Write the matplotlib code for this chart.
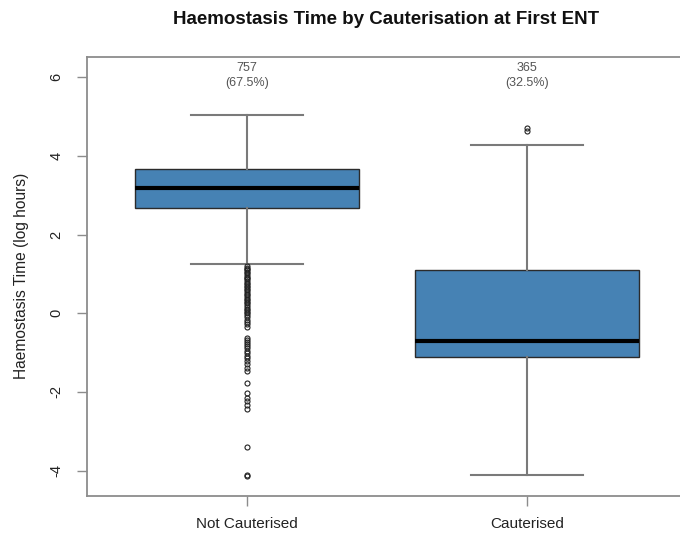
import matplotlib
matplotlib.use("Agg")
import matplotlib.pyplot as plt

plt.rcParams["font.family"] = ["Liberation Sans", "DejaVu Sans"]

# Groups and summary statistics (log hours)
groups = ["Not Cauterised", "Cauterised"]
counts = [757, 365]
q1 = [2.68, -1.12]
medians = [3.18, -0.70]
q3 = [3.67, 1.09]
whisker_low = [1.25, -4.11]
whisker_high = [5.04, 4.28]

outliers_not_cauterised = [
    1.20, 1.16, 1.12, 1.09, 1.05, 1.01, 0.97, 0.93, 0.90, 0.86, 0.82, 0.78,
    0.74, 0.70, 0.66, 0.62, 0.58, 0.54, 0.50, 0.46, 0.41, 0.37, 0.33, 0.29,
    0.25, 0.20, 0.16, 0.12, 0.08, 0.04, 0.00, -0.05, -0.10, -0.16, -0.22,
    -0.28, -0.35, -0.63, -0.68, -0.73, -0.78, -0.83, -0.89, -0.95, -1.01,
    -1.08, -1.15, -1.22, -1.30, -1.38, -1.47, -1.77, -2.03, -2.16, -2.24,
    -2.33, -2.44, -3.41, -4.10, -4.13,
]
outliers_cauterised = [4.64, 4.72]

fig = plt.figure(figsize=(6.8, 5.34), dpi=100)
ax = fig.add_axes([87 / 680, 38 / 534, 600 / 680, 439.3 / 534])

stats = []
for i, name in enumerate(groups):
    stats.append({
        "label": name,
        "q1": q1[i],
        "med": medians[i],
        "q3": q3[i],
        "whislo": whisker_low[i],
        "whishi": whisker_high[i],
        "fliers": [outliers_not_cauterised, outliers_cauterised][i],
    })

ax.bxp(
    stats,
    positions=[1, 2],
    widths=0.8,
    patch_artist=True,
    showfliers=True,
    boxprops=dict(facecolor="#4682B4", edgecolor="#2b2b2b", linewidth=1.0),
    medianprops=dict(color="black", linewidth=3.0, solid_capstyle="butt"),
    whiskerprops=dict(color="#7a7a7a", linewidth=1.5),
    capprops=dict(color="#7a7a7a", linewidth=1.5),
    capwidths=0.4,
    flierprops=dict(marker="o", markersize=3.6, markerfacecolor="none",
                    markeredgecolor="#222222", markeredgewidth=0.8),
)

ax.set_xlim(0.428, 2.572)
ax.set_ylim(-4.645, 6.52)

ax.set_yticks([-4, -2, 0, 2, 4, 6])
ax.set_yticklabels(["-4", "-2", "0", "2", "4", "6"], rotation=90, va="center")
ax.set_xticks([1, 2])
ax.set_xticklabels(groups)

for s in ax.spines.values():
    s.set_color("#8c8c8c")
    s.set_linewidth(1.3)

ax.tick_params(axis="both", colors="#8c8c8c", length=7, width=1.0,
               labelcolor="#222222", labelsize=11)
ax.tick_params(axis="y", pad=10, labelsize=10.5)
ax.tick_params(axis="x", pad=8)

ax.set_ylabel("Haemostasis Time (log hours)", fontsize=11.2, color="#222222",
              labelpad=15)

total = sum(counts)
for i, n in enumerate(counts):
    ax.text(i + 1, 6.23, f"{n}", ha="center", va="center", fontsize=9,
            color="#555555")
    ax.text(i + 1, 5.85, f"({100 * n / total:.1f}%)", ha="center",
            va="center", fontsize=9, color="#555555")

fig.text(386 / 680, 1 - 20 / 534, "Haemostasis Time by Cauterisation at First ENT",
         ha="center", va="center", fontsize=13.5, fontweight="bold",
         color="#111111")

fig.savefig("out.png", dpi=100)
